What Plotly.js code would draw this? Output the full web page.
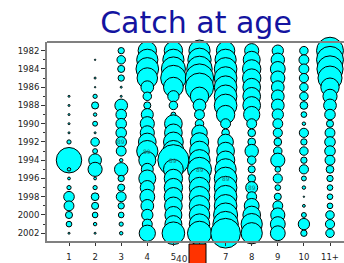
<!DOCTYPE html>
<html>
<head>
<meta charset="utf-8">
<script src="https://cdn.plot.ly/plotly-3.0.1.min.js"></script>
<style>html,body{margin:0;padding:0;background:#fff;overflow:hidden;}#chart{width:350px;height:263px;}</style>
</head>
<body>
<div id="chart"></div>
<script>
// Years (rows) and age classes (columns)
const years = [1982,1983,1984,1985,1986,1987,1988,1989,1990,1991,1992,1993,1994,1995,1996,1997,1998,1999,2000,2001,2002];
const ages = [1,2,3,4,5,6,7,8,9,10,11];
const ageLabels = ['1','2','3','4','5','6','7','8','9','10','11+'];

// Catch at age (relative units), one array per age, ordered by year
const catchAge1  = [0,0,0,0,0,2,2,2,2,2,9,4,324,6,4,9,56,49,25,16,2];
const catchAge2  = [0,1,0,2,1,9,25,6,12,2,36,12,81,100,4,9,30,25,16,6,2];
const catchAge3  = [20,36,25,20,2,2,81,56,56,56,56,49,6,90,20,25,49,20,16,9,6];
const catchAge4  = [169,225,256,210,81,36,25,72,100,100,156,225,144,72,144,100,110,81,64,49,132];
const catchAge5  = [169,225,289,324,196,64,36,12,156,156,196,225,484,196,169,169,169,156,144,144,256];
const catchAge6  = [225,272,324,400,400,169,81,49,36,121,169,196,225,289,225,210,210,210,210,210,289];
const catchAge7  = [169,225,256,256,256,256,256,169,49,30,121,156,169,225,256,256,256,256,289,324,441];
const catchAge8  = [100,144,169,169,156,156,156,132,49,30,30,90,36,25,30,72,49,110,156,225,225];
const catchAge9  = [64,90,110,100,81,81,81,64,49,42,30,36,100,16,42,16,25,49,100,110,110];
const catchAge10 = [36,49,49,42,36,36,30,16,6,42,20,36,20,42,12,6,1,4,12,64,20];
const catchAge11 = [361,361,342,289,169,100,81,56,25,49,56,56,49,30,20,16,16,16,36,42,36];

// Highlighted cohort
const cohortLabel = '89';
const cohortYear = 1989;
const cohortAges = [3,4,5,6,7,8];

const catchByAge = [catchAge1,catchAge2,catchAge3,catchAge4,catchAge5,catchAge6,catchAge7,catchAge8,catchAge9,catchAge10,catchAge11];

const xs = [], ys = [], ss = [];
years.forEach((yr, i) => {
  ages.forEach((a, j) => {
    const v = catchByAge[j][i];
    if (v > 0) { xs.push(a); ys.push(yr); ss.push(v); }
  });
});

const trace = {
  type: 'scatter', mode: 'markers',
  x: xs, y: ys,
  marker: {size: ss, sizemode: 'area', sizeref: 1, color: '#00ffff',
           line: {color: '#000000', width: 1}, opacity: 1},
  cliponaxis: false, hoverinfo: 'none'
};

// plot area in pixels: x 47..349, y 42..241
const PW = 302, PH = 199;
const annotations = cohortAges.map(a => ({
  x: a, y: cohortYear + a, xref: 'x', yref: 'y', text: cohortLabel,
  showarrow: false, font: {family: 'DejaVu Sans', size: 6, color: '#207878'}
}));
annotations.push({xref:'paper', yref:'paper', x: (190-47)/PW, y: (241-259)/PH, xanchor:'right', yanchor:'middle',
  text:'40', showarrow:false, font:{family:'DejaVu Sans', size:9, color:'#333'}});

const shapes = [
  {type:'line', xref:'paper', yref:'paper', x0:0, x1:1, y0:1, y1:1, line:{color:'#808080', width:2}},
  {type:'rect', xref:'paper', yref:'paper', x0:(189-47)/PW, x1:(206-47)/PW, y0:(241-266)/PH, y1:(241-244)/PH,
   fillcolor:'#ff3300', line:{color:'#000', width:1}, layer:'above'}
];

const layout = {
  width: 350, height: 263,
  margin: {l: 47, r: 1, t: 42, b: 22},
  paper_bgcolor: '#fff', plot_bgcolor: '#fff',
  showlegend: false,
  title: {text: 'Catch at age', x: 196/350, xanchor: 'center', y: 1 - 22/263, yanchor: 'middle',
          font: {family: 'DejaVu Sans', size: 30, color: '#1414a0'}},
  xaxis: {range: [1 - 22/26.1, 11 + 19/26.1], tickvals: ages, ticktext: ageLabels, showgrid: false, zeroline: false,
          showline: true, mirror: false, linecolor: '#808080', linewidth: 2,
          ticks: 'outside', ticklen: 3, tickcolor: '#333', tickwidth: 1, ticklabelstandoff: 4,
          tickfont: {family: 'DejaVu Sans', size: 8.5, color: '#222'}},
  yaxis: {range: [2002.85, 1981.05], tickvals: years.filter(y => y % 2 === 0), showgrid: false, zeroline: false,
          showline: true, mirror: false, linecolor: '#808080', linewidth: 2,
          ticks: 'outside', ticklen: 4, tickcolor: '#333', tickwidth: 1,
          minor: {tickvals: years, ticks: 'outside', ticklen: 2, tickcolor: '#333', showgrid: false},
          tickfont: {family: 'DejaVu Sans', size: 8.5, color: '#222'}},
  shapes: shapes,
  annotations: annotations
};

Plotly.newPlot('chart', [trace], layout, {staticPlot: true, displayModeBar: false});
</script>
</body>
</html>
